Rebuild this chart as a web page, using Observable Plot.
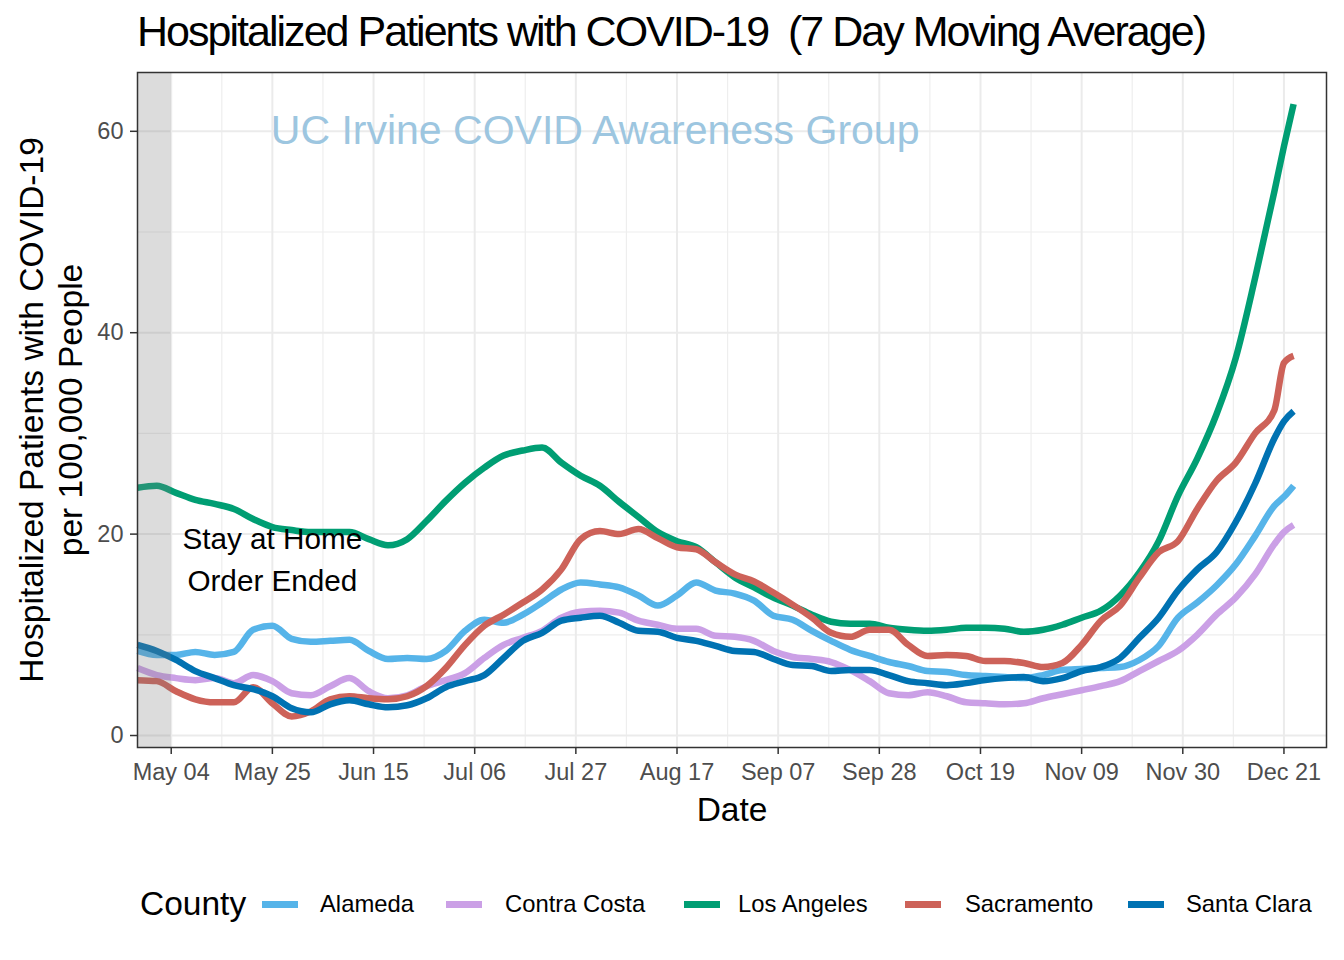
<!DOCTYPE html>
<html><head><meta charset="utf-8">
<script src="https://cdn.jsdelivr.net/npm/d3@7"></script>
<script src="https://cdn.jsdelivr.net/npm/@observablehq/plot@0.6"></script>
<style>
body{margin:0;background:#fff;font-family:"Liberation Sans",Arial,Helvetica,sans-serif;}
#page{position:relative;width:1344px;height:960px;overflow:hidden;background:#fff;}
#title{position:absolute;left:0;top:0;}
#title text{white-space:pre;}
#chart{position:absolute;left:0;top:62px;}
#legend{position:absolute;left:0;top:860px;width:1344px;height:100px;}
.leg{position:absolute;white-space:nowrap;line-height:1;color:#000;}
.key{position:absolute;}
</style></head>
<body><div id="page">
<svg id="title" width="1344" height="62"><text x="137" y="46" font-size="43" font-family="Liberation Sans, Arial, sans-serif" textLength="1070" lengthAdjust="spacing" fill="#000" xml:space="preserve">Hospitalized Patients with COVID-19  (7 Day Moving Average)</text></svg>
<div id="chart"></div>
<div id="legend"></div>
</div>
<script>
// ---- data ----
const dates = ["2020-04-27","2020-05-01","2020-05-05","2020-05-09","2020-05-13","2020-05-17","2020-05-21","2020-05-25","2020-05-29","2020-06-02","2020-06-06","2020-06-10","2020-06-14","2020-06-18","2020-06-22","2020-06-26","2020-06-30","2020-07-04","2020-07-08","2020-07-12","2020-07-16","2020-07-20","2020-07-24","2020-07-28","2020-08-01","2020-08-05","2020-08-09","2020-08-13","2020-08-17","2020-08-21","2020-08-25","2020-08-29","2020-09-02","2020-09-06","2020-09-10","2020-09-14","2020-09-18","2020-09-22","2020-09-26","2020-09-30","2020-10-04","2020-10-08","2020-10-12","2020-10-16","2020-10-20","2020-10-24","2020-10-28","2020-11-01","2020-11-05","2020-11-09","2020-11-13","2020-11-17","2020-11-21","2020-11-25","2020-11-29","2020-12-03","2020-12-07","2020-12-11","2020-12-15","2020-12-19","2020-12-21","2020-12-23"];

const alameda = [8.4,8.0,8.0,8.3,8.0,8.3,10.5,10.9,9.6,9.3,9.4,9.5,8.4,7.6,7.7,7.6,8.4,10.4,11.5,11.2,12.0,13.2,14.5,15.2,15.0,14.7,13.9,12.9,13.9,15.2,14.4,14.1,13.4,11.9,11.5,10.4,9.4,8.5,7.9,7.3,6.9,6.4,6.3,6.0,5.9,5.8,5.7,6.0,6.5,6.6,6.7,6.8,7.5,8.9,11.7,13.2,14.9,17.0,19.8,22.8,23.7,24.8];

const contraCosta = [6.7,6.0,5.7,5.5,5.7,5.2,6.0,5.4,4.2,4.0,4.9,5.7,4.4,3.7,4.0,4.9,5.5,6.2,7.7,9.0,9.7,10.4,11.7,12.3,12.4,12.2,11.4,11.0,10.6,10.6,9.9,9.8,9.4,8.4,7.8,7.6,7.3,6.5,5.4,4.2,4.0,4.3,3.9,3.3,3.2,3.1,3.2,3.7,4.1,4.5,4.9,5.4,6.4,7.4,8.4,10.0,12.0,13.7,16.0,19.0,20.2,20.9];

const losAngeles = [24.6,24.8,24.1,23.4,23.0,22.5,21.5,20.7,20.4,20.2,20.2,20.2,19.5,18.9,19.5,21.3,23.3,25.1,26.6,27.8,28.3,28.6,27.1,25.8,24.8,23.2,21.7,20.2,19.3,18.7,17.2,15.7,14.7,13.7,12.9,12.0,11.3,11.1,11.1,10.7,10.5,10.4,10.5,10.7,10.7,10.6,10.3,10.5,11.0,11.7,12.4,13.9,16.2,19.3,23.8,27.5,31.9,37.5,45.4,54.0,58.5,62.7];

const sacramento = [5.5,5.4,4.4,3.6,3.3,3.3,4.8,3.2,1.9,2.4,3.6,3.9,3.7,3.6,3.9,4.9,6.7,9.0,10.9,12.0,13.2,14.5,16.5,19.5,20.3,20.0,20.5,19.6,18.7,18.5,17.2,16.0,15.3,14.2,13.0,11.7,10.2,9.8,10.5,10.5,9.0,7.9,8.0,7.9,7.4,7.4,7.2,6.8,7.2,9.0,11.4,12.9,15.7,18.2,19.3,22.5,25.3,27.1,30.0,32.3,37.0,37.7];

const santaClara = [9.0,8.4,7.5,6.4,5.7,5.0,4.6,3.9,2.7,2.3,3.1,3.5,3.1,2.8,3.0,3.7,4.8,5.4,6.0,7.7,9.4,10.2,11.4,11.7,11.9,11.2,10.4,10.3,9.7,9.4,8.9,8.4,8.3,7.6,7.0,6.9,6.4,6.5,6.5,6.0,5.4,5.2,5.0,5.2,5.5,5.7,5.8,5.4,5.7,6.4,6.8,7.7,9.7,11.7,14.4,16.5,18.2,21.2,25.0,29.5,31.2,32.2];

const counties = ["Alameda","Contra Costa","Los Angeles","Sacramento","Santa Clara"];
const countyColors = ["#56B4E9","#CBA0E6","#009E73","#CD6259","#0072B2"];
const seriesValues = [alameda, contraCosta, losAngeles, sacramento, santaClara];

const xTickDates = ["2020-05-04","2020-05-25","2020-06-15","2020-07-06","2020-07-27","2020-08-17","2020-09-07","2020-09-28","2020-10-19","2020-11-09","2020-11-30","2020-12-21"];
const yTicks = [0, 20, 40, 60];
const yMinor = [10, 30, 50];
const xDomain = ["2020-04-27", "2020-12-29T20:00Z"];
const yDomain = [-1.19, 65.84];

const shadeStart = "2020-04-27";
const shadeEnd = "2020-05-04";

const noteLines = ["Stay at Home", "Order Ended"];
const noteDate = "2020-05-25";
const noteValues = [19.5, 15.3];

const watermark = "UC Irvine COVID Awareness Group";
const watermarkDate = "2020-07-31";
const watermarkValue = 60;

// ---- build ----
const rows = counties.flatMap((c, i) => dates.map((d, j) => ({county: c, date: new Date(d), value: seriesValues[i][j]})));
const majorX = xTickDates.map(d => new Date(d));
const minorX = majorX.slice(1).map((d, i) => new Date((+majorX[i] + +d) / 2));
const fontFamily = '"Liberation Sans", Arial, Helvetica, sans-serif';

const chart = Plot.plot({
  width: 1344,
  height: 798,
  marginLeft: 137,
  marginRight: 18,
  marginTop: 10,
  marginBottom: 113,
  style: {fontFamily, background: "white", overflow: "visible"},
  x: {type: "utc", domain: xDomain.map(d => new Date(d))},
  y: {domain: yDomain},
  color: {domain: counties, range: countyColors},
  marks: [
    Plot.ruleX(minorX, {stroke: "#EEEEEE", strokeWidth: 1.2}),
    Plot.ruleY(yMinor, {stroke: "#EEEEEE", strokeWidth: 1.2}),
    Plot.ruleX(majorX, {stroke: "#EBEBEB", strokeWidth: 2}),
    Plot.ruleY(yTicks, {stroke: "#EBEBEB", strokeWidth: 2}),
    Plot.text([watermark], {x: () => new Date(watermarkDate), y: () => watermarkValue, text: d => d, fontSize: 41, fill: "#9DC6E0"}),
    Plot.line(rows, {x: "date", y: "value", z: "county", stroke: "county", strokeWidth: 6.5, strokeLinejoin: "round", strokeLinecap: "butt", curve: "monotone-x"}),
    Plot.rect([0], {x1: () => new Date(shadeStart), x2: () => new Date(shadeEnd), y1: () => yDomain[0], y2: () => yDomain[1], fill: "#7F7F7F", fillOpacity: 0.27}),
    Plot.text(noteLines, {x: () => new Date(noteDate), y: (d, i) => noteValues[i], text: d => d, fontSize: 29.7, fill: "#000"}),
    Plot.frame({stroke: "#333333", strokeWidth: 1.5}),
    Plot.axisX(majorX, {tickFormat: d3.utcFormat("%b %d"), tickSize: 7, tickPadding: 9, fontSize: 23.5, fill: "#4D4D4D", stroke: "#333333", strokeWidth: 1.5, label: null}),
    Plot.axisY(yTicks, {tickSize: 7, tickPadding: 7, fontSize: 23.5, fill: "#4D4D4D", stroke: "#333333", strokeWidth: 1.5, label: null}),
    Plot.text(["Date"], {frameAnchor: "bottom", dy: 73, text: d => d, fontSize: 33.5, fill: "#000"}),
    Plot.text(["Hospitalized Patients with COVID-19"], {frameAnchor: "left", textAnchor: "middle", rotate: -90, dx: -105, text: d => d, fontSize: 33.5, fill: "#000"}),
    Plot.text(["per 100,000 People"], {frameAnchor: "left", textAnchor: "middle", rotate: -90, dx: -66, text: d => d, fontSize: 33.5, fill: "#000"})
  ]
});
document.getElementById("chart").appendChild(chart);

// ---- legend ----
const legend = document.getElementById("legend");
const legendCenterY = 44;
const keyLeft = [262, 446, 684, 905, 1128];
const labelLeft = [320, 505, 738, 965, 1186];
const t = document.createElement("div");
t.className = "leg";
t.textContent = "County";
t.style.cssText = `left:140px;top:${legendCenterY - 16.75}px;font-size:33.5px;`;
legend.appendChild(t);
counties.forEach((c, i) => {
  const k = document.createElement("div");
  k.className = "key";
  k.style.cssText = `left:${keyLeft[i]}px;top:${legendCenterY - 3.5}px;width:36px;height:7px;background:${countyColors[i]};`;
  legend.appendChild(k);
  const l = document.createElement("div");
  l.className = "leg";
  l.textContent = c;
  l.style.cssText = `left:${labelLeft[i]}px;top:${legendCenterY - 11.9}px;font-size:23.8px;`;
  legend.appendChild(l);
});
</script>
</body></html>
